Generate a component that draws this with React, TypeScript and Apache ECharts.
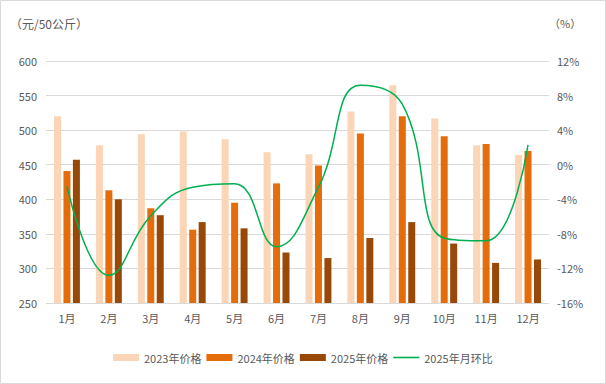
import React, { useEffect, useRef } from "react";
import * as echarts from "echarts";

const categories = ["1月", "2月", "3月", "4月", "5月", "6月", "7月", "8月", "9月", "10月", "11月", "12月"];
const price2023 = [520, 478, 494, 498, 487, 468, 465, 527, 565, 517, 478, 464];
const price2024 = [441, 413, 387, 356, 395, 423, 449, 495, 520, 491, 480, 470];
const price2025 = [457, 400, 377, 367, 358, 323, 315, 344, 367, 336, 308, 313];
const mom2025 = [-2.5, -12.8, -5.9, -2.6, -2.2, -9.5, -2.6, 9.2, 7.0, -8.5, -8.8, 2.3];

const FONT = "'Noto Sans CJK SC', 'Noto Sans', sans-serif";
const GRAY = "#595959";

export default function App() {
  const ref = useRef<HTMLDivElement>(null);
  useEffect(() => {
    document.body.style.margin = "0";
    const chart = echarts.init(ref.current!, undefined, { renderer: "svg" });
    chart.setOption({
      animation: false,
      textStyle: { fontFamily: FONT },
      graphic: [
        {
          type: "rect",
          shape: { x: 0.5, y: 0.5, width: 605, height: 383 },
          style: { fill: "none", stroke: "#D9D9D9", lineWidth: 1 },
          silent: true,
        },
        {
          type: "text",
          left: 10,
          top: 17,
          style: { text: "（元/50公斤）", fill: GRAY, font: `12px ${FONT}` },
        },
        {
          type: "text",
          left: 549,
          top: 17,
          style: { text: "（%）", fill: GRAY, font: `11px ${FONT}` },
        },
      ],
      grid: { left: 46, right: 57, top: 61, bottom: 81 },
      legend: {
        bottom: 16,
        left: 108,
        itemWidth: 26,
        itemHeight: 7,
        itemGap: 5,
        textStyle: { color: GRAY, fontSize: 11, fontFamily: FONT },
        data: [
          { name: "2023年价格", icon: "rect" },
          { name: "2024年价格", icon: "rect" },
          { name: "2025年价格", icon: "rect" },
          { name: "2025年月环比", icon: "path://M0,0 H26 V1.6 H0 Z" },
        ],
      },
      xAxis: {
        type: "category",
        data: categories,
        axisTick: { show: false },
        axisLine: { lineStyle: { color: "#D9D9D9" } },
        axisLabel: { color: GRAY, fontSize: 11, margin: 9 },
      },
      yAxis: [
        {
          type: "value",
          min: 250,
          max: 600,
          interval: 50,
          axisLabel: { color: GRAY, fontSize: 11, margin: 9 },
          splitLine: { lineStyle: { color: "#D9D9D9" } },
          axisLine: { show: false },
        },
        {
          type: "value",
          min: -16,
          max: 12,
          interval: 4,
          axisLabel: { color: GRAY, fontSize: 11, margin: 8, formatter: "{value}%" },
          splitLine: { show: false },
          axisLine: { show: false },
        },
      ],
      series: [
        {
          name: "2023年价格",
          type: "bar",
          data: price2023,
          barWidth: 7,
          barGap: "35%",
          itemStyle: { color: "#FBD5B5" },
        },
        {
          name: "2024年价格",
          type: "bar",
          data: price2024,
          barWidth: 7,
          barGap: "35%",
          itemStyle: { color: "#E46C0A" },
        },
        {
          name: "2025年价格",
          type: "bar",
          data: price2025,
          barWidth: 7,
          barGap: "35%",
          itemStyle: { color: "#984807" },
        },
        {
          name: "2025年月环比",
          type: "line",
          yAxisIndex: 1,
          data: mom2025,
          smooth: 0.45,
          showSymbol: false,
          symbol: "none",
          lineStyle: { color: "#00B050", width: 1.5 },
          itemStyle: { color: "#00B050" },
        },
      ],
    });
    return () => chart.dispose();
  }, []);
  return <div ref={ref} style={{ width: 606, height: 384, position: "absolute", left: 0, top: 0 }} />;
}
